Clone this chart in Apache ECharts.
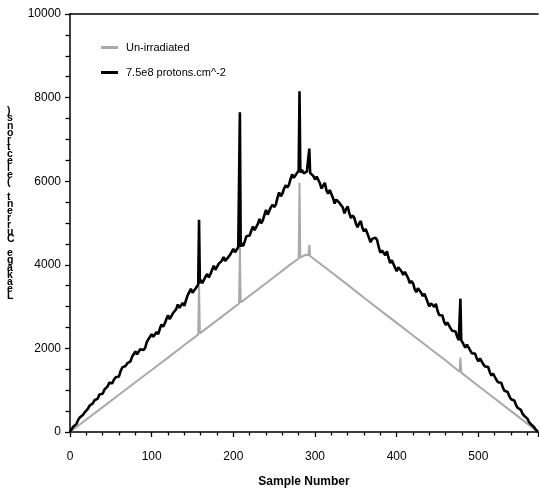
<!DOCTYPE html>
<html>
<head>
<meta charset="utf-8">
<script src="https://cdn.jsdelivr.net/npm/echarts@6/dist/echarts.min.js"></script>
<style>html,body{margin:0;padding:0;background:#fff}#c{width:539px;height:493px}</style>
</head>
<body>
<div id="c"></div>
<script>
// ---- data ----
const seriesNames = ['Un-irradiated', '7.5e8 protons.cm^-2'];
const xAxisTitle = 'Sample Number';
const yAxisTitle = 'Leakage Current (electrons)';
const xTicks = [0, 100, 200, 300, 400, 500];
const yTicks = [0, 2000, 4000, 6000, 8000, 10000];

const grayX = [0,20,40,60,80,100,120,140,157,158,159,180,200,207,208,209,230,250,270,280,281,282,288,292,293,294,300,320,340,360,380,400,420,440,460,477,478,479,500,520,540,560,573];
const grayY = [0,300,595,890,1190,1485,1780,2080,2330,3500,2360,2670,2970,3075,4420,3100,3410,3710,4010,4150,5960,4170,4240,4230,4480,4210,4120,3820,3520,3210,2910,2610,2310,2010,1710,1440,1780,1420,1100,800,500,200,0];

const blackX = [0,2,4,6,8,10,12,14,16,18,20,22,24,26,28,30,32,34,36,38,40,42,44,46,48,50,52,54,56,58,60,62,64,66,68,70,72,74,76,78,80,82,84,86,88,90,92,94,96,98,100,102,104,106,108,110,112,114,116,118,120,122,124,126,128,130,132,134,136,138,140,142,144,146,148,150,152,154,156,
  157,158,159,
  160,162,164,166,168,170,172,174,176,178,180,182,184,186,188,190,192,194,196,198,200,202,204,206,
  207,208,209,
  210,212,214,216,218,220,222,224,226,228,230,232,234,236,238,240,242,244,246,248,250,252,254,256,258,260,262,264,266,268,270,272,274,276,278,280,
  281,
  282,284,286,288,290,292,
  293,
  294,296,298,300,302,304,306,308,310,312,314,316,318,320,322,324,326,328,330,332,334,336,338,340,342,344,346,348,350,352,354,356,358,360,362,364,366,368,370,372,374,376,378,380,382,384,386,388,390,392,394,396,398,400,402,404,406,408,410,412,414,416,418,420,422,424,426,428,430,432,434,436,438,440,442,444,446,448,450,452,454,456,458,460,462,464,466,468,470,472,474,476,
  477,478,479,
  480,482,484,486,488,490,492,494,496,498,500,502,504,506,508,510,512,514,516,518,520,522,524,526,528,530,532,534,536,538,540,542,544,546,548,550,552,554,556,558,560,562,564,566,568,570,572,
  573];
const blackY = [0,70,125,150,195,290,348,360,415,470,475,560,632,640,685,760,727,800,899,880,916,1010,1052,1090,1175,1150,1170,1260,1310,1290,1330,1460,1545,1520,1580,1640,1605,1690,1797,1830,1925,1860,1870,1980,2020,1960,2010,2150,2220,2250,2340,2280,2300,2390,2340,2470,2570,2520,2595,2700,2790,2700,2720,2840,2890,2940,3050,2970,2980,3090,3020,3150,3270,3300,3425,3330,3340,3440,3410,
  3530,5080,3560,
  3640,3560,3590,3720,3780,3700,3780,3880,3975,3880,3910,4020,4060,4100,4185,4090,4075,4190,4240,4270,4380,4300,4320,4420,
  4440,7650,4430,
  4520,4445,4560,4685,4640,4700,4820,4915,4830,4850,4980,5095,4990,5060,5190,5315,5200,5230,5380,5440,5380,5440,5600,5730,5640,5700,5820,5900,5850,5910,6050,6165,6080,6110,6200,6250,
  8150,
  6210,6270,6190,6160,6230,6255,
  6780,
  6200,6240,6120,6040,6110,6145,5950,5825,5900,5960,5780,5700,5790,5830,5600,5465,5560,5595,5480,5440,5370,5230,5330,5400,5230,5120,5180,5130,4990,4900,4990,5045,4880,4800,4860,4830,4650,4540,4620,4610,4650,4595,4420,4290,4340,4310,4230,4325,4170,4040,4110,4090,3930,3845,3940,3975,3840,3760,3830,3845,3680,3560,3610,3560,3420,3345,3440,3475,3330,3250,3310,3270,3100,3005,3080,3070,2990,3065,2900,2800,2830,2785,2640,2560,2620,2605,2480,2420,2460,2405,2280,2195,
  2220,3190,2200,
  2200,2090,2020,2090,2080,1950,1885,1930,1875,1760,1690,1760,1740,1620,1570,1600,1555,1430,1350,1400,1355,1250,1190,1220,1180,1060,985,1010,955,850,785,800,755,650,580,590,530,440,390,380,320,240,190,170,120,60,25,
  0];

// ---- chart ----
const FONT = '"Liberation Sans", Arial, sans-serif';
const grayData = grayX.map((x, i) => [x, grayY[i]]);
const blackData = blackX.map((x, i) => [x, blackY[i]]);
const stackedTitle = yAxisTitle.split('').reverse().join('\n');

const chart = echarts.init(document.getElementById('c'), null, {renderer: 'canvas'});
chart.setOption({
  animation: false,
  backgroundColor: '#fff',
  grid: {left: 70, right: 1, top: 14, bottom: 57.5},
  legend: {
    orient: 'vertical', left: 96, top: 37, icon: 'rect', itemWidth: 17, itemHeight: 3, itemGap: 14,
    textStyle: {fontFamily: FONT, fontSize: 11, color: '#000', padding: [0, 0, 0, 3]},
    data: seriesNames
  },
  xAxis: [{
    type: 'value', min: xTicks[0], max: 573, interval: 100,
    name: xAxisTitle, nameLocation: 'middle', nameGap: 44,
    nameTextStyle: {fontFamily: FONT, fontSize: 12, fontWeight: 'bold', color: '#000'},
    axisLine: {lineStyle: {color: '#000', width: 1.5}},
    axisTick: {inside: false, length: 5, lineStyle: {color: '#000', width: 1.3}},
    minorTick: {show: true, splitNumber: 5, length: 3.5, lineStyle: {color: '#000', width: 1.3}},
    axisLabel: {fontFamily: FONT, fontSize: 12, color: '#000', margin: 19, showMaxLabel: false},
    splitLine: {show: false}
  }, {
    type: 'value', position: 'top', min: 0, max: 573,
    axisLine: {show: true, lineStyle: {color: '#000', width: 1.5}},
    axisTick: {show: false}, axisLabel: {show: false}, splitLine: {show: false}
  }],
  yAxis: {
    type: 'value', min: yTicks[0], max: yTicks[yTicks.length - 1], interval: 2000,
    axisLine: {show: true, lineStyle: {color: '#000', width: 1.5}},
    axisTick: {show: true, inside: false, length: 5, lineStyle: {color: '#000', width: 1.3}},
    minorTick: {show: true, splitNumber: 4, length: 4.5, lineStyle: {color: '#000', width: 1.3}},
    axisLabel: {fontFamily: FONT, fontSize: 12, color: '#000', margin: 9, formatter: v => String(v)},
    splitLine: {show: false}
  },
  graphic: [{
    type: 'text', left: 7, top: 106,
    style: {text: stackedTitle, font: 'bold 10.5px ' + FONT, lineHeight: 7.1, fill: '#000', align: 'center'}
  }],
  series: [{
    name: seriesNames[0], type: 'line', data: grayData, xAxisIndex: 0,
    symbol: 'none', lineStyle: {color: '#a9a9a9', width: 2}, itemStyle: {color: '#a9a9a9'}, z: 2
  }, {
    name: seriesNames[1], type: 'line', data: blackData, xAxisIndex: 0,
    symbol: 'none', lineStyle: {color: '#000', width: 2.6}, itemStyle: {color: '#000'}, z: 3
  }]
});
</script>
</body>
</html>
